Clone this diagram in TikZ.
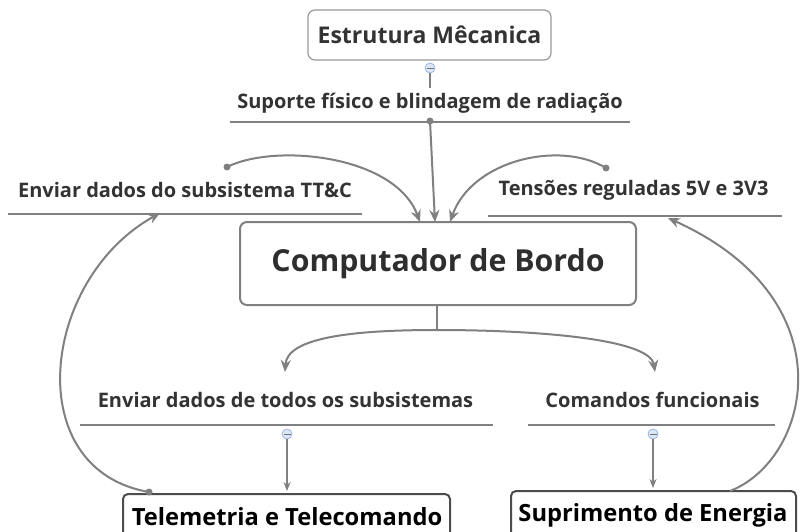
\documentclass[tikz,border=0pt]{standalone}
\usepackage{fontspec}
\setmainfont{Open Sans}
\usetikzlibrary{arrows.meta}
\definecolor{ln}{HTML}{808080}
\definecolor{tx}{HTML}{333333}
\definecolor{bfill}{HTML}{DCE7F8}
\definecolor{bdraw}{HTML}{9DB6E2}
\tikzset{
  conn/.style={draw=ln, line width=2pt},
  arr/.style={conn, -{Stealth[length=12pt,width=10pt]}},
  lbl/.style={text=tx, font=\bfseries\fontsize{20}{22}\selectfont, inner sep=0pt},
  uline/.style={draw=ln, line width=1.5pt},
  dot/.style={circle, fill=ln, inner sep=0pt, minimum size=7pt},
  knob/.style={circle, fill=bfill, draw=bdraw, line width=0.8pt, inner sep=0pt, minimum size=10pt},
  topbox/.style={draw=ln!80, line width=1.2pt, rounded corners=7pt, fill=white},
  botbox/.style={draw=black!70, line width=2pt, rounded corners=5pt},
  bottxt/.style={font=\bfseries\fontsize{23.7}{26}\selectfont, text=black, inner sep=0pt},
}
\begin{document}
\begin{tikzpicture}[x=1pt,y=-1pt]
\clip (0,0) rectangle (800,532);
\fill[white] (0,0) rectangle (800,532);

% Estrutura Mecanica
\node[topbox, minimum width=243pt, minimum height=50pt, text=tx, font=\bfseries\fontsize{23}{26}\selectfont] (est) at (429.5,35) {Estrutura Mêcanica};
\node[knob] (k1) at (430,68) {};
\draw[tx!70, line width=0.8pt] (426.5,68) -- (433.5,68);
\coordinate (s1) at (430,88);
\draw[conn, line width=1.3pt] (k1.south) -- (s1);

% Suporte
\node[lbl] (sup) at (430,103) {Suporte físico e blindagem de radiação};
\coordinate (sl1) at (230,122); \coordinate (sl2) at (630,122);
\draw[uline] (sl1) -- (sl2);
\node[dot] (d1) at (430,121) {};

% Computador
\node[draw=ln, line width=2pt, rounded corners=7pt, minimum width=396pt, minimum height=83pt, text=tx!90!black, font=\bfseries\fontsize{30.3}{33}\selectfont] (cdb) at (438,263.5) {Computador de Bordo};
\coordinate (t1) at (420,222);
\coordinate (t2) at (435,222);
\coordinate (t3) at (450,222);
\draw[arr] (d1.center) -- (t2);

% Left top label
\node[lbl] (env1) at (185,190) {Enviar dados do subsistema TT\&C};
\coordinate (el1) at (8,214); \coordinate (el2) at (362,214);
\draw[uline] (el1) -- (el2);
\node[dot] (d2) at (227,167) {};
\draw[arr] (d2.center) .. controls (275,143) and (395,155) .. (t1);

% Right top label
\node[lbl] (ten) at (633.5,190) {Tensões reguladas 5V e 3V3};
\coordinate (tl1) at (488,216); \coordinate (tl2) at (782,216);
\draw[uline] (tl1) -- (tl2);
\node[dot] (d3) at (606,168) {};
\draw[arr] (d3.center) .. controls (560,140) and (472,160) .. (t3);

% Bottom fork
\coordinate (j0) at (437,330);
\coordinate (fl) at (285,372);
\coordinate (fr) at (655,372);
\draw[conn] (cdb.south -| j0) -- (j0);
\draw[arr] (j0) .. controls (350,330) and (287,338) .. (fl);
\draw[arr] (j0) .. controls (530,330) and (650,338) .. (fr);

% Enviar dados de todos
\node[lbl] (env2) at (285.5,400) {Enviar dados de todos os subsistemas};
\coordinate (ul1) at (80,425); \coordinate (ul2) at (493,425);
\draw[uline] (ul1) -- (ul2);
\node[knob] (k2) at (287,434) {};
\draw[tx!70, line width=0.8pt] (283.5,434) -- (290.5,434);

% Comandos funcionais
\node[lbl] (com) at (652.5,400) {Comandos funcionais};
\coordinate (cl1) at (528,425); \coordinate (cl2) at (775,425);
\draw[uline] (cl1) -- (cl2);
\node[knob] (k3) at (653,434) {};
\draw[tx!70, line width=0.8pt] (649.5,434) -- (656.5,434);

% Bottom boxes
\node[botbox, minimum width=327pt, minimum height=56pt, anchor=north] (tel) at (286.5,493) {};
\node[bottxt] (telt) at (287,517) {Telemetria e Telecomando};
\node[botbox, minimum width=285pt, minimum height=58pt, anchor=north] (supr) at (653.5,490) {};
\node[bottxt] (suprt) at (653,515) {Suprimento de Energia};

\coordinate (b2) at (287,491);
\coordinate (b3) at (653,488);
\draw[arr, line width=1.5pt, -{Stealth[length=9pt,width=7pt]}] (k2.south) -- (b2);
\draw[arr, line width=1.5pt, -{Stealth[length=9pt,width=7pt]}] (k3.south) -- (b3);

% Long curves
\node[dot] (d4) at (149,492) {};
\coordinate (e4) at (160,213);
\draw[arr] (d4.center) .. controls (20,470) and (40,280) .. (e4);
\coordinate (s5) at (730,491);
\coordinate (e5) at (668,218);
\draw[arr] (s5) .. controls (810,460) and (850,300) .. (e5);
\end{tikzpicture}
\end{document}
